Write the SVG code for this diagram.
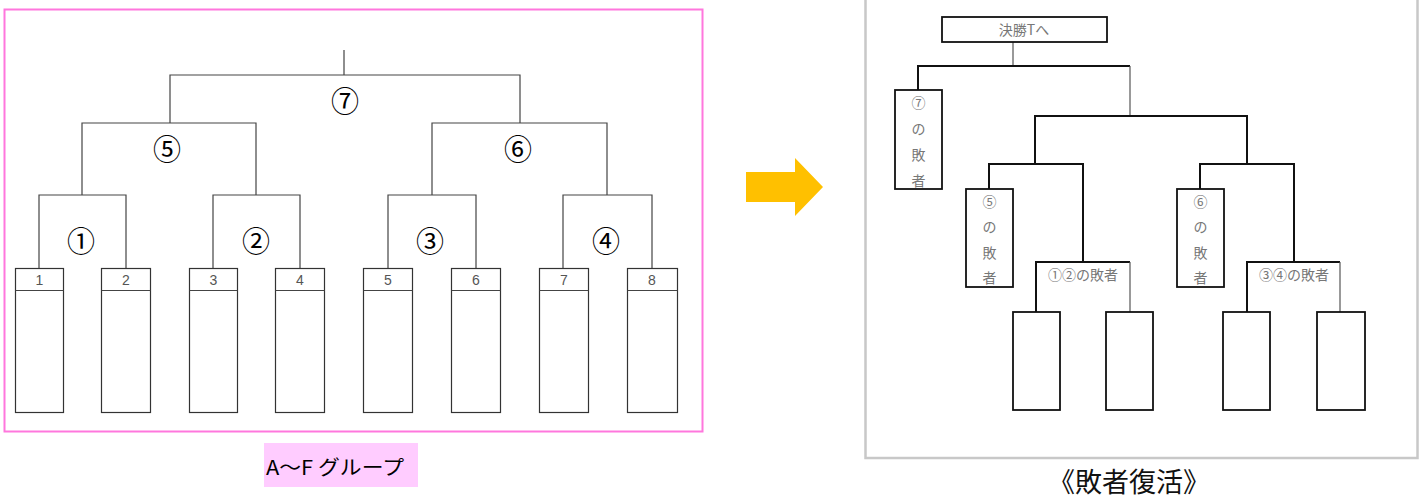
<svg xmlns="http://www.w3.org/2000/svg" width="1423" height="499" viewBox="0 0 1423 499">
<style>
.ln{fill:none;stroke:#444;stroke-width:1.2}
.bx{fill:#fff;stroke:#333;stroke-width:1.2}
.num{font-family:"Liberation Sans",Arial,sans-serif;font-size:14px;fill:#555;text-anchor:middle}
.circ{font-family:"Noto Sans CJK JP",sans-serif;font-size:28px;fill:#000;text-anchor:middle}
.rl{fill:none;stroke:#111;stroke-width:2}
.rt{fill:none;stroke:#555;stroke-width:1.2}
.rb{fill:#fff;stroke:#111;stroke-width:1.8}
.gt{font-family:"Noto Sans CJK JP",sans-serif;font-size:14px;fill:#777;text-anchor:middle}
</style>
<rect x="0" y="0" width="1423" height="499" fill="#fff"/>
<rect x="4.5" y="9.5" width="698" height="422" fill="none" stroke="#ff77dd" stroke-width="2"/>
<g id="left-connectors">
<path class="ln" d="M344 50V75M170 123V75H520V123"/>
<path class="ln" d="M82 195V123H256V195M432 195V123H607V195"/>
<path class="ln" d="M39 268V195H126V268M213 268V195H300V268M388 268V195H476V268M563 268V195H652V268"/>
</g>
<g id="left-labels">
<text class="circ" x="345" y="112">⑦</text>
<text class="circ" x="167" y="160">⑤</text>
<text class="circ" x="518" y="160">⑥</text>
<text class="circ" x="81" y="252">①</text>
<text class="circ" x="256" y="252">②</text>
<text class="circ" x="430" y="252">③</text>
<text class="circ" x="606" y="252">④</text>
</g>
<g id="slot1"><rect class="bx" x="15.5" y="268.5" width="48" height="144"/><line class="ln" x1="15.5" y1="290.5" x2="63.5" y2="290.5"/><text class="num" x="39.5" y="285">1</text></g>
<g id="slot2"><rect class="bx" x="101.5" y="268.5" width="49" height="144"/><line class="ln" x1="101.5" y1="290.5" x2="150.5" y2="290.5"/><text class="num" x="126" y="285">2</text></g>
<g id="slot3"><rect class="bx" x="189.5" y="268.5" width="48" height="144"/><line class="ln" x1="189.5" y1="290.5" x2="237.5" y2="290.5"/><text class="num" x="213.5" y="285">3</text></g>
<g id="slot4"><rect class="bx" x="275.5" y="268.5" width="49" height="144"/><line class="ln" x1="275.5" y1="290.5" x2="324.5" y2="290.5"/><text class="num" x="300" y="285">4</text></g>
<g id="slot5"><rect class="bx" x="363.5" y="268.5" width="49" height="144"/><line class="ln" x1="363.5" y1="290.5" x2="412.5" y2="290.5"/><text class="num" x="388" y="285">5</text></g>
<g id="slot6"><rect class="bx" x="451.5" y="268.5" width="49" height="144"/><line class="ln" x1="451.5" y1="290.5" x2="500.5" y2="290.5"/><text class="num" x="476" y="285">6</text></g>
<g id="slot7"><rect class="bx" x="539.5" y="268.5" width="49" height="144"/><line class="ln" x1="539.5" y1="290.5" x2="588.5" y2="290.5"/><text class="num" x="564" y="285">7</text></g>
<g id="slot8"><rect class="bx" x="627.5" y="268.5" width="50" height="144"/><line class="ln" x1="627.5" y1="290.5" x2="677.5" y2="290.5"/><text class="num" x="652" y="285">8</text></g>
<g id="group-label">
<rect x="264" y="443" width="154" height="44" fill="#ffccff"/>
<text x="266" y="475" font-family="Noto Sans CJK JP,sans-serif" font-size="20" fill="#000" textLength="138" lengthAdjust="spacingAndGlyphs">A～F グループ</text>
</g>
<g id="arrow">
<polygon points="746,172 795,172 795,158 823,187 795,216 795,202 746,202" fill="#ffc000"/>
</g>
<rect x="865.5" y="-5" width="552" height="463" fill="none" stroke="#c8c8c8" stroke-width="2.5"/>
<g id="right-connectors">
<path class="rt" d="M1013 42V66"/>
<path class="rl" d="M918 90V66H1130"/>
<path class="rt" d="M1130 66V116"/>
<path class="rl" d="M1035 164V116H1247V164"/>
<path class="rl" d="M989 189V164H1083V262"/>
<path class="rl" d="M1200 189V164H1294V262"/>
<path class="rl" d="M1036 312V262H1130"/>
<path class="rt" d="M1130 262V312"/>
<path class="rl" d="M1247 312V262H1340"/>
<path class="rt" d="M1340 262V312"/>
</g>
<g id="final-box"><rect class="rb" x="942" y="17" width="165" height="25"/><text class="gt" x="1024" y="35">決勝Tへ</text></g>
<g id="loser7"><rect class="rb" x="895" y="90" width="47" height="99"/>
<text class="gt" x="918.5" y="108">⑦</text><text class="gt" x="918.5" y="134">の</text><text class="gt" x="918.5" y="160">敗</text><text class="gt" x="918.5" y="186">者</text></g>
<g id="loser5"><rect class="rb" x="966" y="189" width="47" height="98"/>
<text class="gt" x="989.5" y="207">⑤</text><text class="gt" x="989.5" y="232">の</text><text class="gt" x="989.5" y="258">敗</text><text class="gt" x="989.5" y="283">者</text></g>
<g id="loser6"><rect class="rb" x="1177" y="189" width="47" height="98"/>
<text class="gt" x="1200.5" y="207">⑥</text><text class="gt" x="1200.5" y="232">の</text><text class="gt" x="1200.5" y="258">敗</text><text class="gt" x="1200.5" y="283">者</text></g>
<g id="loser12-label"><text class="gt" x="1083" y="280">①②の敗者</text></g>
<g id="loser34-label"><text class="gt" x="1294" y="280">③④の敗者</text></g>
<g id="rslot1"><rect class="rb" x="1013" y="312" width="47" height="98"/></g>
<g id="rslot2"><rect class="rb" x="1106" y="312" width="47" height="98"/></g>
<g id="rslot3"><rect class="rb" x="1223" y="312" width="47" height="98"/></g>
<g id="rslot4"><rect class="rb" x="1317" y="312" width="48" height="98"/></g>
<g id="caption"><text x="1129" y="492" font-family="Noto Sans CJK JP,sans-serif" font-size="27" fill="#111" text-anchor="middle">《敗者復活》</text></g>
</svg>
